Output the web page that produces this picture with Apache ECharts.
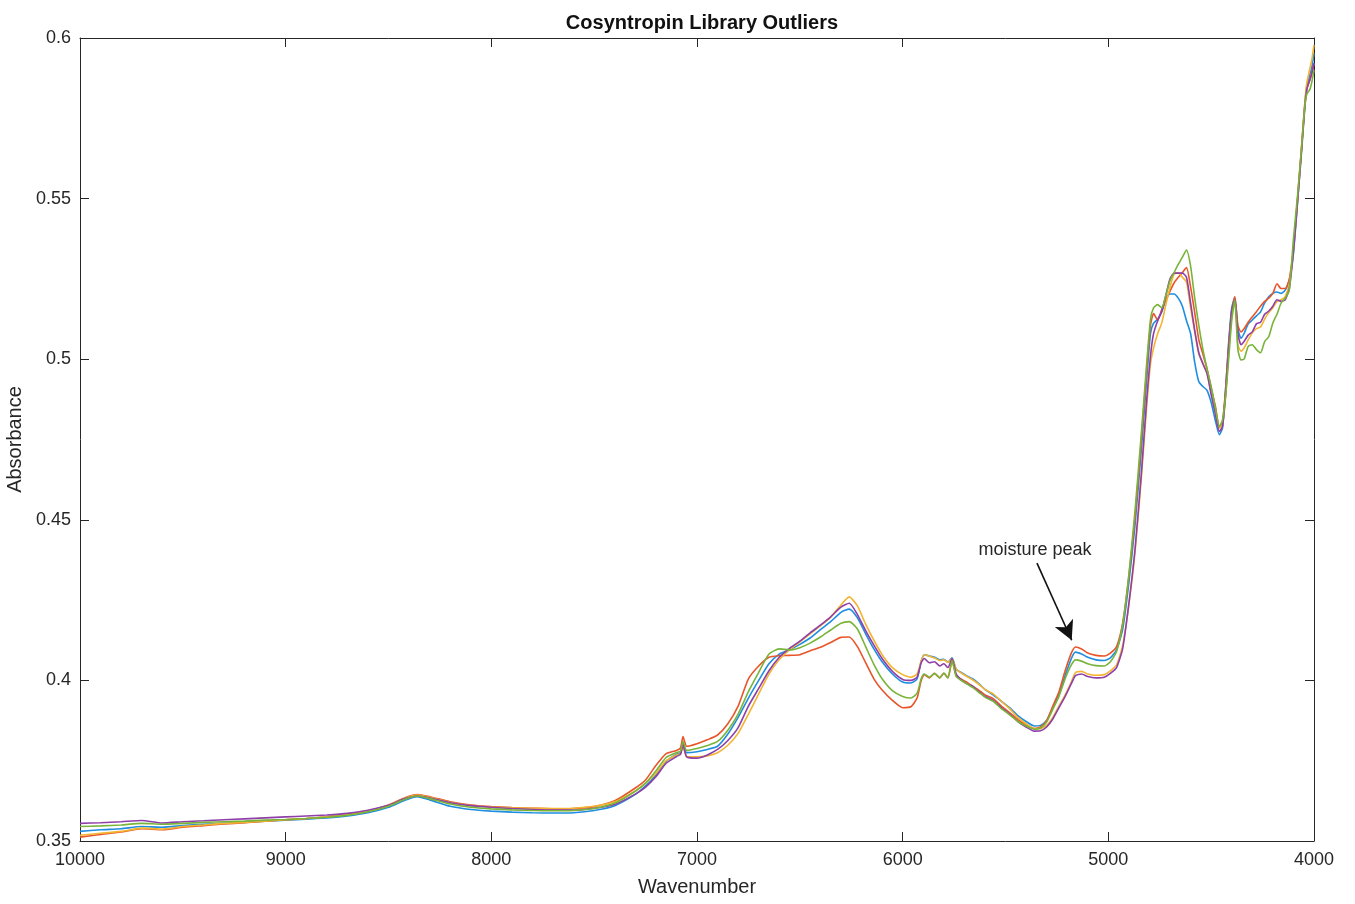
<!DOCTYPE html>
<html>
<head>
<meta charset="utf-8">
<title>Cosyntropin Library Outliers</title>
<script src="https://cdn.jsdelivr.net/npm/echarts@6/dist/echarts.min.js"></script>
<style>
  html, body { margin: 0; padding: 0; background: #fff; }
  #chart { width: 1355px; height: 904px; }
</style>
</head>
<body>
<div id="chart"></div>
<script>
// wavenumber grid (shared by all spectra)
const wavenumbers = [
  10000, 9900, 9800, 9700, 9600, 9500, 9400, 9300, 9200, 9100,
  9000, 8900, 8800, 8700, 8600, 8500, 8420, 8360, 8300, 8200,
  8100, 8000, 7900, 7800, 7700, 7600, 7500, 7400, 7300, 7250,
  7200, 7150, 7100, 7080, 7068, 7050, 7000, 6950, 6900, 6850,
  6800, 6750, 6700, 6650, 6600, 6550, 6500, 6450, 6400, 6350,
  6300, 6260, 6220, 6180, 6140, 6100, 6050, 6000, 5960, 5930,
  5910, 5895, 5870, 5845, 5820, 5800, 5780, 5760, 5740, 5720,
  5690, 5660, 5630, 5600, 5560, 5520, 5480, 5440, 5400, 5360,
  5330, 5300, 5270, 5240, 5210, 5180, 5160, 5130, 5100, 5060,
  5020, 4990, 4960, 4930, 4900, 4870, 4840, 4815, 4795, 4780,
  4760, 4740, 4720, 4700, 4680, 4660, 4640, 4620, 4600, 4580,
  4560, 4540, 4520, 4500, 4480, 4460, 4445, 4430, 4415, 4400,
  4385, 4370, 4355, 4340, 4320, 4300, 4280, 4260, 4240, 4220,
  4200, 4180, 4160, 4140, 4120, 4100, 4080, 4060, 4045, 4035,
  4020, 4010, 4000
];

const blueVals = [
  0.3530, 0.3535, 0.3538, 0.3545, 0.3543, 0.3548, 0.3552, 0.3555, 0.3558, 0.3562,
  0.3565, 0.3568, 0.3572, 0.3578, 0.3588, 0.3605, 0.3627, 0.3638, 0.3628, 0.3608,
  0.3598, 0.3593, 0.3590, 0.3588, 0.3587, 0.3588, 0.3595, 0.3610, 0.3645, 0.3672,
  0.3705, 0.3748, 0.3770, 0.3775, 0.3805, 0.3775, 0.3778, 0.3785, 0.3795, 0.3833,
  0.3885, 0.3945, 0.4000, 0.4052, 0.4082, 0.4095, 0.4112, 0.4132, 0.4158, 0.4183,
  0.4212, 0.4222, 0.4195, 0.4145, 0.4098, 0.4058, 0.4020, 0.3995, 0.3992, 0.4005,
  0.4060, 0.4080, 0.4076, 0.4072, 0.4064, 0.4066, 0.4057, 0.4070, 0.4035, 0.4026,
  0.4015, 0.4005, 0.3990, 0.3972, 0.3955, 0.3935, 0.3915, 0.3890, 0.3872, 0.3858,
  0.3860, 0.3875, 0.3915, 0.3955, 0.4015, 0.4068, 0.4088, 0.4082, 0.4072, 0.4064,
  0.4062, 0.4070, 0.4095, 0.4160, 0.4305, 0.4485, 0.4715, 0.4925, 0.5080, 0.5112,
  0.5125, 0.5148, 0.5185, 0.5203, 0.5203, 0.5190, 0.5165, 0.5120, 0.5080, 0.4990,
  0.4930, 0.4915, 0.4903, 0.4865, 0.4810, 0.4765, 0.4785, 0.4905, 0.5050, 0.5160,
  0.5192, 0.5095, 0.5065, 0.5080, 0.5110, 0.5122, 0.5135, 0.5147, 0.5175, 0.5194,
  0.5205, 0.5209, 0.5205, 0.5215, 0.5245, 0.5330, 0.5490, 0.5660, 0.5790, 0.5850,
  0.5885, 0.5910, 0.5953
];

const redVals = [
  0.3512, 0.3520, 0.3528, 0.3538, 0.3535, 0.3543, 0.3548, 0.3553, 0.3557, 0.3562,
  0.3566, 0.3570, 0.3575, 0.3582, 0.3593, 0.3612, 0.3635, 0.3645, 0.3638, 0.3622,
  0.3612, 0.3607, 0.3604, 0.3602, 0.3600, 0.3601, 0.3607, 0.3625, 0.3665, 0.3690,
  0.3735, 0.3772, 0.3782, 0.3790, 0.3825, 0.3795, 0.3803, 0.3815, 0.3830, 0.3865,
  0.3920, 0.4005, 0.4045, 0.4072, 0.4077, 0.4078, 0.4080, 0.4092, 0.4103, 0.4118,
  0.4134, 0.4135, 0.4105, 0.4055, 0.4005, 0.3970, 0.3938, 0.3915, 0.3918, 0.3945,
  0.4000, 0.4018, 0.4008, 0.4022, 0.4008, 0.4022, 0.4008, 0.4062, 0.4015, 0.4005,
  0.3995, 0.3982, 0.3970, 0.3955, 0.3943, 0.3920, 0.3900, 0.3878, 0.3862, 0.3850,
  0.3855, 0.3875, 0.3920, 0.3965, 0.4030, 0.4085, 0.4104, 0.4098, 0.4085, 0.4078,
  0.4076, 0.4085, 0.4105, 0.4180, 0.4325, 0.4510, 0.4745, 0.4955, 0.5105, 0.5142,
  0.5122, 0.5155, 0.5185, 0.5212, 0.5238, 0.5255, 0.5270, 0.5285, 0.5225, 0.5145,
  0.5060, 0.5015, 0.4970, 0.4910, 0.4855, 0.4790, 0.4805, 0.4905, 0.5045, 0.5150,
  0.5195, 0.5105, 0.5085, 0.5095, 0.5115, 0.5132, 0.5148, 0.5165, 0.5180, 0.5190,
  0.5205, 0.5235, 0.5220, 0.5220, 0.5250, 0.5345, 0.5500, 0.5665, 0.5790, 0.5840,
  0.5870, 0.5895, 0.5920
];

const yellowVals = [
  0.3518, 0.3524, 0.3530, 0.3540, 0.3537, 0.3545, 0.3550, 0.3555, 0.3558, 0.3562,
  0.3566, 0.3570, 0.3575, 0.3582, 0.3593, 0.3610, 0.3633, 0.3643, 0.3636, 0.3620,
  0.3610, 0.3606, 0.3603, 0.3602, 0.3601, 0.3602, 0.3608, 0.3622, 0.3656, 0.3680,
  0.3710, 0.3750, 0.3768, 0.3772, 0.3795, 0.3762, 0.3762, 0.3765, 0.3775, 0.3798,
  0.3835, 0.3895, 0.3958, 0.4020, 0.4065, 0.4095, 0.4120, 0.4145, 0.4170, 0.4197,
  0.4235, 0.4260, 0.4232, 0.4175, 0.4125, 0.4080, 0.4040, 0.4018, 0.4010, 0.4020,
  0.4060, 0.4080, 0.4075, 0.4070, 0.4062, 0.4064, 0.4056, 0.4068, 0.4035, 0.4025,
  0.4013, 0.4002, 0.3988, 0.3972, 0.3958, 0.3935, 0.3912, 0.3885, 0.3865, 0.3850,
  0.3850, 0.3860, 0.3885, 0.3920, 0.3955, 0.3995, 0.4024, 0.4028, 0.4020, 0.4016,
  0.4018, 0.4030, 0.4048, 0.4110, 0.4235, 0.4400, 0.4625, 0.4840, 0.4985, 0.5035,
  0.5080, 0.5113, 0.5170, 0.5225, 0.5265, 0.5270, 0.5255, 0.5240, 0.5160, 0.5085,
  0.5015, 0.4988, 0.4955, 0.4895, 0.4835, 0.4785, 0.4795, 0.4880, 0.5015, 0.5135,
  0.5180, 0.5045, 0.5025, 0.5035, 0.5060, 0.5082, 0.5095, 0.5100, 0.5125, 0.5145,
  0.5160, 0.5180, 0.5185, 0.5195, 0.5235, 0.5340, 0.5495, 0.5665, 0.5795, 0.5860,
  0.5905, 0.5935, 0.5978
];

const purpleVals = [
  0.3555, 0.3557, 0.3560, 0.3564, 0.3556, 0.3560, 0.3563, 0.3566, 0.3569, 0.3572,
  0.3575, 0.3578, 0.3581, 0.3586, 0.3596, 0.3611, 0.3632, 0.3640, 0.3634, 0.3619,
  0.3610, 0.3605, 0.3601, 0.3598, 0.3596, 0.3596, 0.3602, 0.3614, 0.3646, 0.3668,
  0.3700, 0.3742, 0.3763, 0.3770, 0.3800, 0.3762, 0.3758, 0.3768, 0.3785, 0.3813,
  0.3853, 0.3920, 0.3975, 0.4030, 0.4072, 0.4100, 0.4122, 0.4148, 0.4172, 0.4198,
  0.4228, 0.4240, 0.4205, 0.4155, 0.4110, 0.4068, 0.4028, 0.4003, 0.4000, 0.4010,
  0.4055, 0.4068, 0.4055, 0.4058, 0.4045, 0.4052, 0.4040, 0.4068, 0.4020, 0.4005,
  0.3990, 0.3982, 0.3965, 0.3950, 0.3938, 0.3915, 0.3895, 0.3872, 0.3855, 0.3842,
  0.3843, 0.3855, 0.3880, 0.3915, 0.3950, 0.3990, 0.4015, 0.4020, 0.4012, 0.4008,
  0.4010, 0.4022, 0.4040, 0.4100, 0.4240, 0.4410, 0.4640, 0.4860, 0.5010, 0.5080,
  0.5120, 0.5150, 0.5200, 0.5250, 0.5268, 0.5268, 0.5268, 0.5255, 0.5175, 0.5090,
  0.5020, 0.4985, 0.4955, 0.4890, 0.4830, 0.4775, 0.4790, 0.4890, 0.5030, 0.5150,
  0.5185, 0.5080, 0.5045, 0.5055, 0.5075, 0.5085, 0.5110, 0.5115, 0.5140, 0.5150,
  0.5165, 0.5185, 0.5180, 0.5185, 0.5220, 0.5335, 0.5490, 0.5650, 0.5780, 0.5840,
  0.5870, 0.5890, 0.5922
];

const greenVals = [
  0.3545, 0.3547, 0.3550, 0.3555, 0.3552, 0.3555, 0.3558, 0.3560, 0.3562, 0.3565,
  0.3567, 0.3570, 0.3574, 0.3580, 0.3591, 0.3608, 0.3630, 0.3640, 0.3632, 0.3615,
  0.3605, 0.3600, 0.3597, 0.3595, 0.3594, 0.3595, 0.3601, 0.3618, 0.3655, 0.3680,
  0.3718, 0.3760, 0.3775, 0.3780, 0.3810, 0.3782, 0.3788, 0.3797, 0.3810, 0.3845,
  0.3895, 0.3965, 0.4025, 0.4082, 0.4098, 0.4095, 0.4102, 0.4116, 0.4135, 0.4157,
  0.4178, 0.4183, 0.4160, 0.4105, 0.4050, 0.4005, 0.3968, 0.3950, 0.3945, 0.3960,
  0.4005, 0.4020, 0.4010, 0.4022, 0.4008, 0.4023, 0.4008, 0.4062, 0.4012, 0.4002,
  0.3990, 0.3978, 0.3963, 0.3948, 0.3935, 0.3912, 0.3893, 0.3872, 0.3858, 0.3848,
  0.3852, 0.3870, 0.3910, 0.3950, 0.4005, 0.4048, 0.4064, 0.4060, 0.4052, 0.4046,
  0.4045, 0.4058, 0.4090, 0.4175, 0.4330, 0.4530, 0.4765, 0.4975, 0.5125, 0.5160,
  0.5170, 0.5160, 0.5200, 0.5245, 0.5270, 0.5295, 0.5318, 0.5340, 0.5290, 0.5190,
  0.5105, 0.5030, 0.4970, 0.4915, 0.4850, 0.4790, 0.4810, 0.4885, 0.5000, 0.5120,
  0.5184, 0.5030, 0.4998, 0.5000, 0.5040, 0.5045, 0.5030, 0.5020, 0.5055, 0.5070,
  0.5113, 0.5140, 0.5175, 0.5190, 0.5215, 0.5375, 0.5510, 0.5660, 0.5785, 0.5825,
  0.5840, 0.5865, 0.5900
];

const xTicks = [4000, 5000, 6000, 7000, 8000, 9000, 10000];
const yTicks = [0.35, 0.4, 0.45, 0.5, 0.55, 0.6];

// annotation: arrow from text to the moisture peak
const noteText = "moisture peak";
const noteAt = [5357, 0.4405];
const arrowFrom = [5347, 0.4365];
const arrowTo = [5178, 0.4125];

const spectra = [
  { name: "s1", color: "#1f8de0", vals: blueVals },
  { name: "s2", color: "#e8552a", vals: redVals },
  { name: "s3", color: "#f2b431", vals: yellowVals },
  { name: "s4", color: "#8e3fa8", vals: purpleVals },
  { name: "s5", color: "#78b43a", vals: greenVals }
];

const chart = echarts.init(document.getElementById("chart"));

const textColor = "#262626";
const fontFamily = "'Liberation Sans', Arial, sans-serif";

const xBase = {
  type: "value",
  min: 4000,
  max: 10000,
  interval: 1000,
  inverse: true,
  splitLine: { show: false },
  axisLine: { show: true, onZero: false, lineStyle: { color: textColor, width: 1 } },
  axisTick: { show: true, inside: true, length: 9, lineStyle: { color: textColor } }
};
const yBase = {
  type: "value",
  min: 0.35,
  max: 0.6,
  interval: 0.05,
  splitLine: { show: false },
  axisLine: { show: true, onZero: false, lineStyle: { color: textColor, width: 1 } },
  axisTick: { show: true, inside: true, length: 9, lineStyle: { color: textColor } }
};

const series = spectra.map((s) => ({
  name: s.name,
  type: "line",
  xAxisIndex: 0,
  yAxisIndex: 0,
  showSymbol: false,
  smooth: 0.2,
  animation: false,
  lineStyle: { color: s.color, width: 1.6 },
  itemStyle: { color: s.color },
  data: wavenumbers.map((w, i) => [w, s.vals[i]])
}));

// annotation lives on the last series, in data coordinates
series[series.length - 1].markLine = {
  silent: true,
  animation: false,
  symbol: ["none", "arrow"],
  symbolSize: [15, 19],
  lineStyle: { color: "#111", width: 1.6, type: "solid" },
  label: { show: false },
  data: [[{ coord: arrowFrom }, { coord: arrowTo }]]
};
series[series.length - 1].markPoint = {
  silent: true,
  animation: false,
  symbol: "circle",
  symbolSize: 0,
  label: {
    show: true,
    position: "inside",
    formatter: noteText,
    color: textColor,
    fontSize: 18,
    fontFamily: fontFamily
  },
  data: [{ coord: noteAt }]
};

chart.setOption({
  backgroundColor: "#fff",
  animation: false,
  title: {
    text: "Cosyntropin Library Outliers",
    left: 697,
    top: 8,
    textAlign: "center",
    textStyle: { fontSize: 20, fontWeight: "bold", color: "#111", fontFamily: fontFamily }
  },
  grid: { left: 80, right: 41, top: 38, bottom: 63, containLabel: false, outerBoundsMode: "none" },
  xAxis: [
    Object.assign({}, xBase, {
      position: "bottom",
      name: "Wavenumber",
      nameLocation: "middle",
      nameGap: 36,
      nameTextStyle: { fontSize: 20, color: textColor, fontFamily: fontFamily },
      axisLabel: {
        color: textColor, fontSize: 18, margin: 10, fontFamily: fontFamily,
        formatter: (v) => (xTicks.includes(v) ? String(v) : "")
      }
    }),
    Object.assign({}, xBase, { position: "top", axisLabel: { show: false } })
  ],
  yAxis: [
    Object.assign({}, yBase, {
      position: "left",
      name: "Absorbance",
      nameLocation: "middle",
      nameGap: 50,
      nameTextStyle: { fontSize: 20, color: textColor, fontFamily: fontFamily },
      axisLabel: {
        color: textColor, fontSize: 18, margin: 9, fontFamily: fontFamily,
        formatter: (v) => {
          const r = Math.round(v * 100) / 100;
          return yTicks.some((t) => Math.abs(t - r) < 1e-9) ? String(r) : "";
        }
      }
    }),
    Object.assign({}, yBase, { position: "right", axisLabel: { show: false } })
  ],
  series: series
});
</script>
</body>
</html>
